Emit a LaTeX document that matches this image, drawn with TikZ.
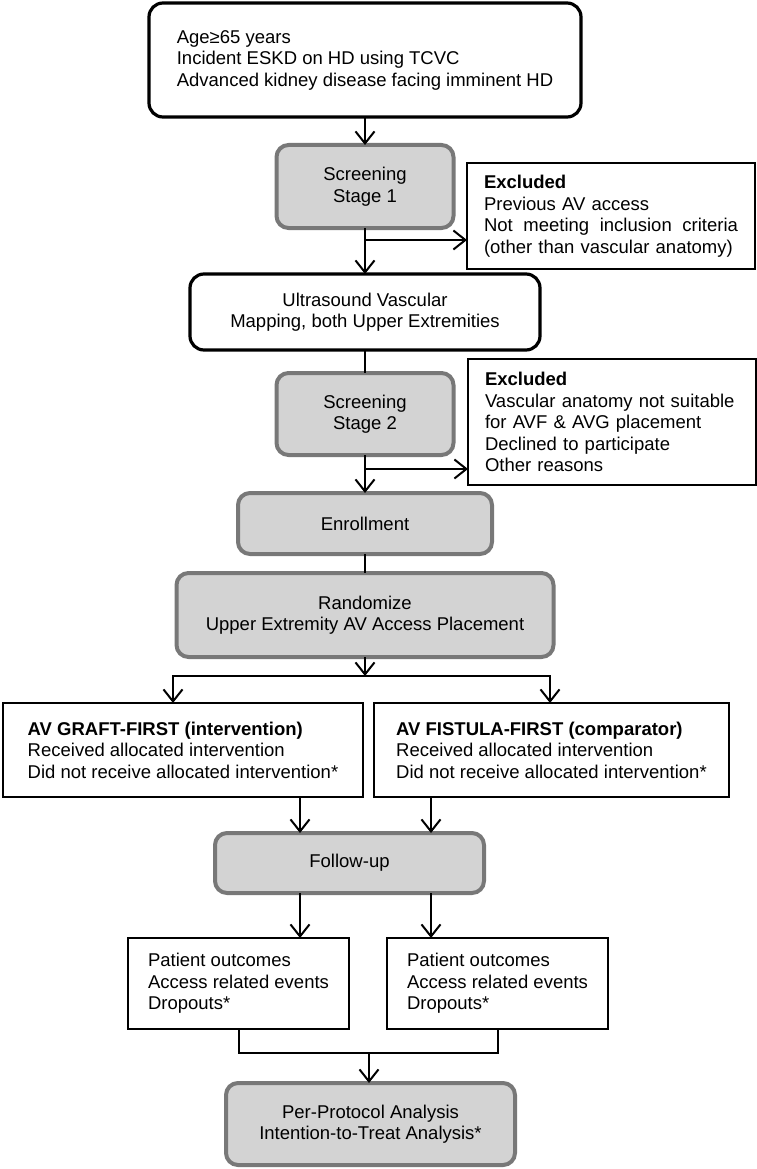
\documentclass[tikz,border=0pt]{standalone}
\usepackage{fontspec}
\setmainfont{Liberation Sans}
\usepackage{tikz}
\usetikzlibrary{arrows.meta,positioning}
\definecolor{boxfill}{RGB}{211,211,211}
\definecolor{boxedge}{RGB}{120,120,120}
\tikzset{
  entry/.style={
    rectangle, rounded corners=14pt, draw=black, line width=3.2pt, fill=white,
    outer sep=0pt, font=\fontsize{18.5pt}{21.5pt}\selectfont
  },
  stage/.style={
    rectangle, rounded corners=12pt, draw=boxedge, line width=4pt, fill=boxfill,
    outer sep=0pt, align=center, font=\fontsize{18.5pt}{21.5pt}\selectfont
  },
  panel/.style={
    rectangle, draw=black, line width=2.5pt, fill=white, outer sep=0pt,
    align=left, inner xsep=17pt, font=\fontsize{18.5pt}{21.5pt}\selectfont
  },
  arrow/.style={-{Straight Barb[length=12pt,width=19pt]}, line width=2pt, black},
  link/.style={line width=2pt, black},
}

\begin{document}
\begin{tikzpicture}[x=1pt, y=-1pt]
  \useasboundingbox (0,0) rectangle (757,1169);

  % Main column
  \node[entry, align=left, minimum width=432pt, minimum height=114pt] (elig) at (365,60)
    {Age≥65 years\\Incident ESKD on HD using TCVC\\Advanced kidney disease facing imminent HD};
  \node[stage, minimum width=177pt, minimum height=83pt, below=28pt of elig] (scr1)
    {Screening\\Stage 1};
  \node[entry, align=center, minimum width=350pt, minimum height=76pt, below=46pt of scr1] (usmap)
    {Ultrasound Vascular\\Mapping, both Upper Extremities};
  \node[stage, minimum width=177pt, minimum height=82pt, below=23pt of usmap] (scr2)
    {Screening\\Stage 2};
  \node[stage, minimum width=254pt, minimum height=61pt, below=38pt of scr2] (enrol)
    {Enrollment};
  \node[stage, minimum width=377pt, minimum height=84pt, below=19pt of enrol] (rand)
    {Randomize\\Upper Extremity AV Access Placement};

  % Exclusions
  \node[panel, text width=254pt, minimum height=106pt, anchor=north west] (excl1) at (467,163)
    {\textbf{Excluded}\\Previous AV access\\Not\hfill meeting\hfill inclusion\hfill criteria\\(other than vascular anatomy)};
  \node[panel, text width=254pt, minimum height=126pt, anchor=north west] (excl2) at (468,359)
    {\textbf{Excluded}\\Vascular anatomy not suitable\\for AVF \& AVG placement\\Declined to participate\\Other reasons};

  % Arms
  \node[panel, minimum width=360pt, minimum height=94pt, anchor=north west] (graft) at (3,703)
    {\textbf{AV GRAFT-FIRST (intervention)}\\Received allocated intervention\\Did not receive allocated intervention*};
  \node[panel, minimum width=355pt, minimum height=94pt, right=11pt of graft] (fistula)
    {\textbf{AV FISTULA-FIRST (comparator)}\\Received allocated intervention\\Did not receive allocated intervention*};

  % Follow-up and outcomes
  \node[stage, minimum width=269pt, minimum height=60pt, anchor=north] (followup) at (349.5,833)
    {Follow-up};
  \node[panel, minimum width=221pt, minimum height=91pt, anchor=north west] (patL) at (128,938)
    {Patient outcomes\\Access related events\\Dropouts*};
  \node[panel, minimum width=221pt, minimum height=91pt, right=38pt of patL] (patR)
    {Patient outcomes\\Access related events\\Dropouts*};
  \node[stage, minimum width=289pt, minimum height=82pt, anchor=north] (analysis) at (370.5,1083)
    {Per-Protocol Analysis\\Intention-to-Treat Analysis*};

  % Helper points
  \coordinate[below=12pt of scr1] (fork1);
  \coordinate[below=14pt of scr2] (fork2);
  \coordinate[below=19pt of rand] (split);
  \coordinate (splitL) at (173,676);
  \coordinate (splitR) at (550,676);
  \coordinate (colA) at (300,0);
  \coordinate (colB) at (431,0);
  \coordinate (merge) at (369,1053);

  % Arrows
  \draw[arrow] (elig) -- (scr1);
  \draw[arrow] (scr1) -- (usmap);
  \draw[arrow] (fork1) -- (fork1 -| excl1.west);
  \draw[link] (usmap) -- (scr2);
  \draw[arrow] (scr2) -- (enrol);
  \draw[arrow] (fork2) -- (fork2 -| excl2.west);
  \draw[link] (enrol) -- (rand);
  \draw[arrow] (rand) -- (split);
  \draw[arrow] (splitR) -| (splitL |- graft.north);
  \draw[arrow] (splitL) -| (splitR |- fistula.north);
  \draw[arrow] (graft.south -| colA) -- (followup.north -| colA);
  \draw[arrow] (fistula.south -| colB) -- (followup.north -| colB);
  \draw[arrow] (followup.south -| colA) -- (patL.north -| colA);
  \draw[arrow] (followup.south -| colB) -- (patR.north -| colB);
  \draw[link] (patL.south) |- (merge) -| (patR.south);
  \draw[arrow] (merge) -- (merge |- analysis.north);
\end{tikzpicture}
\end{document}
